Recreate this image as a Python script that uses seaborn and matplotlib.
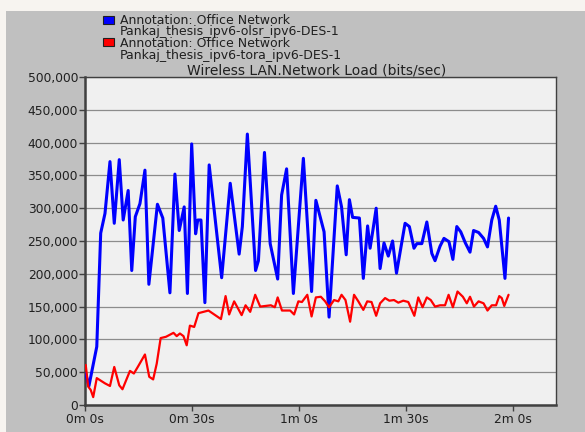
import numpy as np
import pandas as pd
import matplotlib
matplotlib.use("Agg")
import matplotlib.pyplot as plt
import seaborn as sns
from matplotlib.patches import Rectangle
from matplotlib.ticker import FuncFormatter

# values (time in s, load in thousands of bits/sec)
olsr_t = [0.2, 1.1, 3.3, 4.4, 5.6, 7.0, 8.2, 9.6, 10.7, 12.1, 13.1, 14.1, 15.4, 16.8, 17.9,
          20.3, 21.8, 23.8, 25.2, 26.4, 27.8, 28.7, 29.9, 31.0, 31.6, 32.5, 33.6, 34.8, 38.3,
          40.7, 43.2, 44.1, 45.5, 47.8, 48.6, 50.3, 51.9, 54.0, 55.1, 56.5, 58.4, 61.2, 63.5,
          64.7, 65.9, 67.0, 68.4, 70.7, 71.9, 73.2, 74.1, 75.0, 76.9, 78.0, 79.2, 79.9, 80.7,
          81.6, 82.7, 83.8, 85.0, 86.2, 87.3, 89.7, 90.9, 92.2, 93.0, 94.4, 95.8, 97.2, 98.1,
          99.5, 100.6, 102.0, 103.1, 104.2, 105.3, 106.6, 107.9, 108.9, 110.3, 111.7, 112.8,
          114.0, 115.1, 116.1, 117.7, 118.7]
olsr_load = [48, 29, 89, 262, 292, 371, 277, 374, 282, 327, 205, 287, 307, 358, 184,
             306, 285, 171, 352, 266, 302, 170, 398, 261, 282, 282, 156, 366, 194,
             338, 230, 272, 413, 205, 220, 385, 246, 192, 320, 360, 170, 376, 173,
             312, 287, 264, 134, 334, 302, 229, 313, 286, 285, 193, 273, 239, 267,
             300, 208, 247, 227, 250, 201, 277, 272, 239, 246, 246, 279, 231, 220,
             242, 254, 249, 222, 272, 264, 247, 233, 266, 263, 254, 241,
             282, 303, 282, 193, 285]

tora_t = [0.2, 0.9, 1.6, 2.3, 3.3, 5.6, 7.0, 8.2, 9.6, 10.5, 12.6, 13.7, 14.9, 16.8, 18.0,
          19.1, 20.1, 21.2, 22.7, 24.8, 25.7, 26.6, 27.6, 28.5, 29.4, 30.6, 31.8, 34.6, 38.1,
          39.4, 40.4, 41.8, 43.9, 45.0, 46.3, 47.7, 49.1, 52.1, 53.2, 54.0, 55.2, 57.5, 58.6,
          59.8, 60.8, 62.3, 63.5, 64.7, 66.1, 67.3, 68.4, 69.8, 71.0, 71.9, 73.0, 74.3, 75.4,
          76.6, 78.0, 79.1, 80.3, 81.6, 82.7, 84.1, 85.3, 86.6, 87.8, 89.2, 90.6, 92.3, 93.4,
          94.6, 95.8, 96.9, 98.1, 99.5, 100.9, 101.9, 103.1, 104.4, 105.9, 107.0, 107.9,
          109.0, 110.3, 111.7, 112.8, 114.0, 115.2, 116.1, 116.8, 117.5, 118.7]
tora_load = [61, 28, 23, 12, 41, 33, 29, 58, 30, 24, 52, 48, 59, 77, 43,
             39, 63, 102, 104, 110, 105, 109, 105, 91, 121, 119, 140, 144, 131,
             166, 138, 158, 137, 152, 142, 168, 150, 152, 149, 164, 144, 144, 138,
             158, 157, 168, 135, 164, 165, 158, 149, 160, 158, 168, 160, 127, 168,
             158, 145, 158, 157, 136, 155, 163, 159, 160, 156, 159, 157, 136, 164,
             149, 164, 160, 150, 152, 152, 168, 149, 173, 165, 155, 165,
             150, 158, 155, 144, 152, 152, 166, 163, 151, 168]

tick_secs = [0, 30, 60, 90, 120]
tick_names = ["0m 0s", "0m 30s", "1m 0s", "1m 30s", "2m 0s"]
legend_lines = ["Annotation: Office Network", "Pankaj_thesis_ipv6-olsr_ipv6-DES-1",
                "Annotation: Office Network", "Pankaj_thesis_ipv6-tora_ipv6-DES-1"]

olsr_df = pd.DataFrame({"t": olsr_t, "load": np.array(olsr_load) * 1000})
tora_df = pd.DataFrame({"t": tora_t, "load": np.array(tora_load) * 1000})

sns.set_style("white")
plt.rcParams["font.family"] = ["DejaVu Sans"]

fig = plt.figure(figsize=(5.85, 4.32), dpi=100, facecolor="#f7f4f0")
# grey OPNET panel, behind the axes
fig.patches.append(Rectangle((6 / 585, 0), 1, 1 - 11 / 432, transform=fig.transFigure,
                             facecolor="#c0c0c0", edgecolor="none", zorder=-5))

ax = fig.add_axes([85 / 585, 1 - 405 / 432, 471 / 585, 328 / 432])
ax.set_zorder(2)
ax.set_facecolor("#f0f0f0")

sns.lineplot(data=olsr_df, x="t", y="load", color="#0000ff", lw=2.2, sort=False,
             estimator=None, ax=ax, zorder=3)
sns.lineplot(data=tora_df, x="t", y="load", color="#ff0000", lw=1.6, sort=False,
             estimator=None, ax=ax, zorder=4)

ax.set_xlim(0, 132)
ax.set_ylim(0, 500000)
ax.set_yticks(np.arange(0, 500001, 50000))
ax.yaxis.set_major_formatter(FuncFormatter(lambda v, p: f"{int(v):,}"))
ax.set_xticks(tick_secs)
ax.set_xticklabels(tick_names)
ax.grid(axis="y", color="#8c8c8c", lw=0.9)
ax.grid(axis="x", visible=False)
ax.tick_params(axis="both", direction="out", length=4, width=1, color="#404040",
               labelsize=8.8, labelcolor="#202020", left=True, bottom=True)
ax.tick_params(axis="y", pad=1)
ax.tick_params(axis="x", pad=1.5)
for side in ["left", "bottom"]:
    ax.spines[side].set_color("#404040")
    ax.spines[side].set_linewidth(1.8)
for side in ["top", "right"]:
    ax.spines[side].set_color("#404040")
    ax.spines[side].set_linewidth(1.0)
ax.set_xlabel("")
ax.set_ylabel("")

fig.text(317 / 585, 1 - 70 / 432, "Wireless LAN.Network Load (bits/sec)",
         ha="center", va="center", fontsize=10, color="#202020")

# legend block: colour squares plus one four-line text
for i, col in enumerate(["#0000ff", "#ff0000"]):
    yc = 19.5 + i * 22
    fig.patches.append(Rectangle((103 / 585, 1 - (yc + 4) / 432), 11 / 585, 8 / 432,
                                 transform=fig.transFigure, facecolor=col,
                                 edgecolor="#202020", lw=0.8))
fig.text(120 / 585, 1 - 14 / 432, "\n".join(legend_lines), ha="left", va="top",
         fontsize=9, linespacing=0.85, color="#202020")

plt.savefig("out.png", dpi=100, facecolor=fig.get_facecolor())
